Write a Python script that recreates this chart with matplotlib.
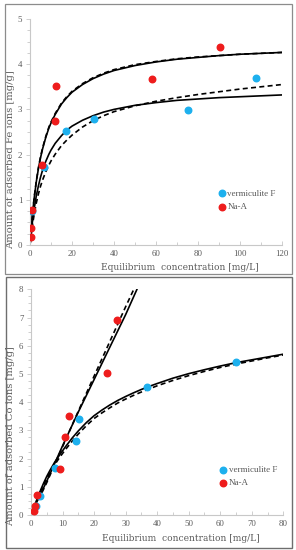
import matplotlib
matplotlib.use("Agg")
import matplotlib.pyplot as plt
import matplotlib.patches as patches
from matplotlib.ticker import MultipleLocator

# ---- Fe panel (top) ----
fe_verm_x = [1.1, 6.8, 17.0, 30.4, 75.0, 107.6]
fe_verm_y = [0.75, 1.73, 2.52, 2.78, 2.99, 3.69]
fe_na_x = [0.6, 0.6, 0.9, 5.9, 11.7, 12.2, 58.3, 90.7]
fe_na_y = [0.18, 0.38, 0.77, 1.77, 2.74, 3.51, 3.67, 4.37]

fe_fit_x = [0, 0.5, 1, 1.5, 2, 3, 4, 5, 6, 7.5, 9, 10, 12, 15, 17.5, 20, 25, 30,
            35, 40, 50, 60, 70, 80, 90, 100, 110, 120]
fe_na_fit1_y = [0, 0.31, 0.59, 0.83, 1.04, 1.40, 1.69, 1.93, 2.13, 2.38, 2.59, 2.70,
                2.89, 3.12, 3.26, 3.38, 3.55, 3.68, 3.78, 3.86, 3.97, 4.05, 4.11, 4.15,
                4.19, 4.22, 4.24, 4.26]
fe_na_fit2_y = [0, 0.32, 0.60, 0.84, 1.06, 1.42, 1.71, 1.95, 2.15, 2.40, 2.61, 2.72,
                2.91, 3.14, 3.28, 3.40, 3.57, 3.70, 3.80, 3.88, 3.99, 4.06, 4.12, 4.16,
                4.19, 4.22, 4.24, 4.26]
fe_verm_fit1_y = [0, 0.24, 0.46, 0.64, 0.81, 1.09, 1.31, 1.50, 1.66, 1.85, 2.01, 2.10,
                  2.25, 2.42, 2.54, 2.63, 2.76, 2.86, 2.94, 3.00, 3.09, 3.15, 3.20, 3.23,
                  3.26, 3.28, 3.30, 3.32]
fe_verm_fit2_y = [0, 0.22, 0.38, 0.54, 0.68, 0.93, 1.13, 1.30, 1.44, 1.62, 1.77, 1.86,
                  2.01, 2.20, 2.32, 2.43, 2.61, 2.75, 2.86, 2.95, 3.08, 3.18, 3.26, 3.33,
                  3.39, 3.45, 3.50, 3.55]

# ---- Co panel (bottom) ----
co_verm_x = [1.6, 2.85, 7.6, 14.3, 15.2, 36.9, 65.0]
co_verm_y = [0.33, 0.69, 1.68, 2.64, 3.39, 4.54, 5.41]
co_na_x = [0.85, 1.4, 2.0, 9.2, 10.9, 12.2, 24.1, 27.4]
co_na_y = [0.15, 0.33, 0.71, 1.63, 2.75, 3.52, 5.05, 6.91]

co_na_fit1_x = [0, 2, 5, 10, 15, 20, 25, 30, 33.6]
co_na_fit1_y = [0, 0.50, 1.20, 2.45, 3.65, 4.80, 5.95, 7.10, 8.00]
co_na_fit2_x = [0, 2, 5, 10, 15, 20, 25, 30, 32.6]
co_na_fit2_y = [0, 0.45, 1.15, 2.42, 3.68, 4.92, 6.15, 7.38, 8.00]

co_verm_fit_x = [0, 1, 2, 3, 4, 5, 6, 7.5, 9.2, 11, 13, 15, 17.5, 20, 22.5, 25, 27.5,
                 30, 32.5, 35, 37.5, 40, 45, 50, 55, 60, 65, 70, 75, 80]
co_verm_fit1_y = [0, 0.30, 0.59, 0.87, 1.13, 1.37, 1.58, 1.87, 2.15, 2.43, 2.72, 2.98,
                  3.27, 3.52, 3.72, 3.90, 4.06, 4.20, 4.33, 4.45, 4.56, 4.66, 4.85, 5.01,
                  5.15, 5.28, 5.40, 5.50, 5.60, 5.70]
co_verm_fit2_y = [0, 0.28, 0.56, 0.82, 1.07, 1.30, 1.50, 1.78, 2.06, 2.33, 2.61, 2.87,
                  3.16, 3.42, 3.62, 3.80, 3.97, 4.11, 4.24, 4.36, 4.47, 4.58, 4.77, 4.94,
                  5.09, 5.23, 5.35, 5.46, 5.57, 5.67]

BLUE = '#1DB0EE'
RED = '#EE1C1C'
GREY = '#595959'
LABEL_FONT = ['DejaVu Serif']
TICK_FONT = ['Liberation Serif', 'DejaVu Serif']

plt.rcParams['font.family'] = TICK_FONT

fig = plt.figure(figsize=(2.96, 5.5), dpi=100)
fig.patch.set_facecolor('white')


def style_axes(ax, xmax, xmaj, xmin, ymax):
    ax.set_xlim(0, xmax)
    ax.set_ylim(0, ymax)
    ax.xaxis.set_major_locator(MultipleLocator(xmaj))
    ax.xaxis.set_minor_locator(MultipleLocator(xmin))
    ax.yaxis.set_major_locator(MultipleLocator(1))
    ax.yaxis.set_minor_locator(MultipleLocator(0.25))
    for s in ['top', 'right']:
        ax.spines[s].set_visible(False)
    for s in ['left', 'bottom']:
        ax.spines[s].set_color('#c8c8c8')
        ax.spines[s].set_linewidth(0.8)
    ax.tick_params(axis='both', which='both', colors='#c8c8c8', labelcolor=GREY,
                   labelsize=6.3, width=0.6)
    ax.tick_params(axis='y', which='major', length=3, direction='out', pad=2.5)
    ax.tick_params(axis='y', which='minor', length=2, direction='out')
    ax.tick_params(axis='x', which='major', length=3, direction='in', pad=3.5)
    ax.tick_params(axis='x', which='minor', length=2, direction='in')


def draw_panel(ax, vx, vy, nx, ny, fits, label_y, legend_y, ylab_pos, xlab_pos):
    for fx, fy, ls in fits:
        if ls == '--':
            ax.plot(fx, fy, color='black', lw=1.2, ls='--', dashes=(3, 2))
        else:
            ax.plot(fx, fy, color='black', lw=1.2)
    ax.scatter(vx, vy, s=22, color=BLUE, zorder=3, label='vermiculite F')
    ax.scatter(nx, ny, s=22, color=RED, zorder=3, label='Na-A')
    ax.set_ylabel(label_y, color=GREY, fontsize=7.2, family=LABEL_FONT)
    ax.yaxis.set_label_coords(*ylab_pos)
    ax.set_xlabel('Equilibrium  concentration [mg/L]', color=GREY,
                  fontsize=6.5, family=LABEL_FONT)
    ax.xaxis.set_label_coords(*xlab_pos)
    ax.legend(loc='center left', bbox_to_anchor=(0.742, legend_y), frameon=False,
              handlelength=1.0, handletextpad=0.15, labelspacing=0.55, borderpad=0,
              borderaxespad=0, labelcolor=GREY, fontsize=6.5)


ax1 = fig.add_axes([0.1014, 0.5545, 0.8514, 0.411])
style_axes(ax1, 120, 20, 10, 5)
fits1 = [
    (fe_fit_x, fe_na_fit1_y, '-'),
    (fe_fit_x, fe_na_fit2_y, '--'),
    (fe_fit_x, fe_verm_fit1_y, '-'),
    (fe_fit_x, fe_verm_fit2_y, '--'),
]
draw_panel(ax1, fe_verm_x, fe_verm_y, fe_na_x, fe_na_y, fits1,
           'Amount of adsorbed Fe ions [mg/g]', 0.198,
           (-0.058, 0.376), (0.595, -0.078))

ax2 = fig.add_axes([0.1047, 0.0636, 0.8524, 0.4104])
style_axes(ax2, 80, 10, 5, 8)
fits2 = [
    (co_na_fit1_x, co_na_fit1_y, '-'),
    (co_na_fit2_x, co_na_fit2_y, '--'),
    (co_verm_fit_x, co_verm_fit1_y, '-'),
    (co_verm_fit_x, co_verm_fit2_y, '--'),
]
draw_panel(ax2, co_verm_x, co_verm_y, co_na_x, co_na_y, fits2,
           'Amount of adsorbed Co ions [mg/g]', 0.171,
           (-0.062, 0.35), (0.595, -0.084))

# panel frames
W, H = 296.0, 550.0
fig.add_artist(patches.Rectangle((5 / W, 1 - 274 / H), 287 / W, 270 / H,
                                 transform=fig.transFigure, fill=False,
                                 edgecolor='#8c8c8c', lw=0.9))
fig.add_artist(patches.Rectangle((6 / W, 1 - 548 / H), 286 / W, 271 / H,
                                 transform=fig.transFigure, fill=False,
                                 edgecolor='#6e6e6e', lw=1.0))

fig.savefig('out.png', dpi=100)
